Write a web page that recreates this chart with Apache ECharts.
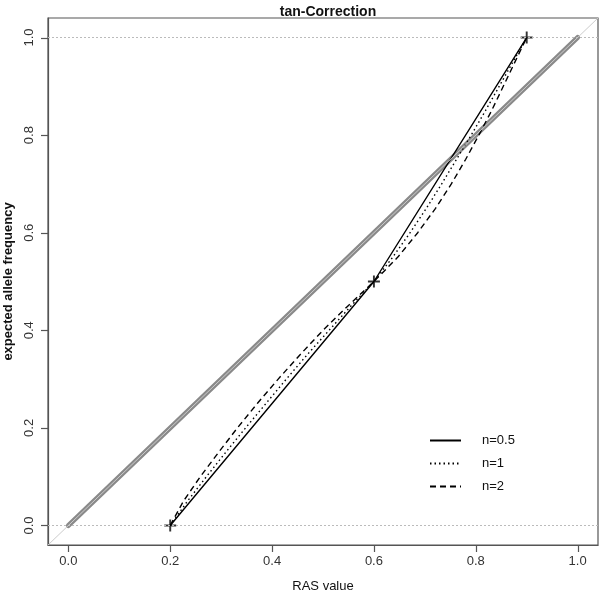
<!DOCTYPE html>
<html>
<head>
<meta charset="utf-8">
<script src="https://cdn.jsdelivr.net/npm/echarts@6/dist/echarts.min.js"></script>
<style>
  html, body { margin: 0; padding: 0; background: #fff; }
  #chart { width: 600px; height: 593px; }
</style>
</head>
<body>
<div id="chart"></div>
<script>
// tick positions on both axes
const tickValues = [0, 0.2, 0.4, 0.6, 0.8, 1.0]
const axisMin = -0.04
const axisMax = 1.04

// identity reference (thick grey)
const identityX = [0, 1]
const identityY = [0, 1]

// anchor points marked with "+"
const anchorX = [0.2, 0.6, 0.9]
const anchorY = [0, 0.5, 1]

// n = 0.5 (solid)
const solidX = [0.2, 0.6, 0.9]
const solidY = [0, 0.5, 1]

// n = 1 (dotted)
const dottedY = [0, 0.05, 0.1, 0.15, 0.2, 0.25, 0.3, 0.35, 0.4, 0.45, 0.5,
  0.55, 0.6, 0.65, 0.7, 0.75, 0.8, 0.85, 0.9, 0.95, 1]
const dottedX = [0.2, 0.234, 0.271, 0.309, 0.348, 0.388, 0.428, 0.469, 0.512, 0.555, 0.6,
  0.637, 0.671, 0.703, 0.733, 0.762, 0.791, 0.819, 0.846, 0.873, 0.9]

// n = 2 (dashed)
const dashedY = [0, 0.05, 0.1, 0.15, 0.2, 0.25, 0.3, 0.35, 0.4, 0.45, 0.5,
  0.55, 0.6, 0.65, 0.7, 0.75, 0.8, 0.85, 0.9, 0.95, 1]
const dashedX = [0.2, 0.226, 0.259, 0.295, 0.332, 0.371, 0.412, 0.455, 0.5, 0.549, 0.6,
  0.647, 0.686, 0.721, 0.752, 0.78, 0.806, 0.831, 0.854, 0.877, 0.9]

const zip = (xs, ys) => xs.map((x, i) => [x, ys[i]])

const font = 'Liberation Sans, Arial, sans-serif'
const plus = 'path://M4.2,0H5.8V10H4.2ZM0,4.2H10V5.8H0Z'
const tickLen = 7
const gridBox = { left: 48, right: 2, top: 18, bottom: 48 }

const axisCommon = {
  type: 'value',
  min: axisMin,
  max: axisMax,
  axisLine: { show: true, onZero: false, lineStyle: { color: '#555', width: 1.2 } },
  splitLine: { show: false },
  axisTick: { show: false },
  nameLocation: 'middle',
  nameMoveOverlap: false,
  nameTextStyle: { fontFamily: font, fontSize: 13, color: '#111' }
}

const chart = echarts.init(document.getElementById('chart'))
chart.setOption({
  animation: false,
  backgroundColor: '#fff',
  title: {
    text: 'tan-Correction',
    left: 323,
    textAlign: 'center',
    top: 0,
    textStyle: { fontFamily: font, fontSize: 14, fontWeight: 'bold', color: '#111' }
  },
  grid: Object.assign({}, gridBox, {
    outerBounds: { left: -200, top: -200, right: -200, bottom: -200 },
    show: true,
    borderColor: '#555',
    borderWidth: 1.2,
    backgroundColor: 'transparent'
  }),
  legend: {
    orient: 'vertical',
    left: 424,
    top: 429,
    itemWidth: 31,
    itemHeight: 14,
    itemGap: 10,
    data: ['n=0.5', 'n=1', 'n=2'],
    itemStyle: { opacity: 0 },
    textStyle: { fontFamily: font, fontSize: 13, color: '#111', padding: [0, 0, 0, 16] }
  },
  xAxis: Object.assign({}, axisCommon, {
    name: 'RAS value',
    nameGap: 35,
    axisLabel: {
      customValues: tickValues,
      margin: 10,
      formatter: v => v.toFixed(1),
      fontFamily: font, fontSize: 13, color: '#333'
    }
  }),
  yAxis: Object.assign({}, axisCommon, {
    name: 'expected allele frequency',
    nameGap: 33,
    nameRotate: 90,
    nameTextStyle: { fontFamily: font, fontSize: 13, color: '#111', fontWeight: 'bold' },
    axisLabel: {
      customValues: tickValues,
      rotate: 90,
      margin: 12,
      formatter: v => v.toFixed(1),
      fontFamily: font, fontSize: 13, color: '#333'
    }
  }),
  series: [
    {
      type: 'line',
      name: 'ref',
      data: zip(identityX, identityY),
      symbol: 'none',
      lineStyle: { color: '#8a8a8a', width: 5, cap: 'round' },
      z: 2,
      markLine: {
        silent: true,
        symbol: 'none',
        label: { show: false },
        lineStyle: { color: '#bbb', width: 1, type: [2, 2] },
        data: [
          { yAxis: 0 },
          { yAxis: 1 },
          [
            { coord: [axisMin, axisMin], lineStyle: { type: 'solid', color: '#ccc' } },
            { coord: [axisMax, axisMax] }
          ]
        ]
      }
    },
    {
      type: 'line',
      name: 'n=0.5',
      data: zip(solidX, solidY),
      symbol: 'none',
      color: '#000',
      lineStyle: { color: '#000', width: 1.4, type: 'solid' },
      z: 3
    },
    {
      type: 'line',
      name: 'n=1',
      data: zip(dottedX, dottedY),
      symbol: 'none',
      color: '#000',
      lineStyle: { color: '#000', width: 1.4, type: [1.5, 3] },
      z: 3
    },
    {
      type: 'line',
      name: 'n=2',
      data: zip(dashedX, dashedY),
      symbol: 'none',
      color: '#000',
      lineStyle: { color: '#000', width: 1.4, type: [6, 4] },
      z: 3
    },
    {
      type: 'scatter',
      name: 'points',
      data: zip(anchorX, anchorY),
      symbol: plus,
      symbolSize: 12,
      itemStyle: { color: '#000' },
      z: 4
    }
  ]
})

// pixel position of a data point, via the axes; falls back to the grid box
function toPixel(x, y) {
  let p = null
  try {
    p = chart.convertToPixel({ xAxisIndex: 0, yAxisIndex: 0 }, [x, y])
  } catch (e) {
    p = null
  }
  if (!p || !isFinite(p[0]) || !isFinite(p[1])) {
    const w = chart.getWidth() - gridBox.left - gridBox.right
    const h = chart.getHeight() - gridBox.top - gridBox.bottom
    const span = axisMax - axisMin
    p = [gridBox.left + (x - axisMin) / span * w,
      gridBox.top + h - (y - axisMin) / span * h]
  }
  return p
}

// outward R-style ticks on the frame
const tickLines = []
tickValues.forEach(v => {
  const bx = toPixel(v, axisMin)
  const ly = toPixel(axisMin, v)
  const tx = Math.round(bx[0]) + 0.5
  const ty = Math.round(ly[1]) + 0.5
  tickLines.push({
    type: 'line', silent: true, z: 100,
    shape: { x1: tx, y1: bx[1], x2: tx, y2: bx[1] + tickLen },
    style: { stroke: '#555', lineWidth: 1.2 }
  })
  tickLines.push({
    type: 'line', silent: true, z: 100,
    shape: { x1: ly[0], y1: ty, x2: ly[0] - tickLen, y2: ty },
    style: { stroke: '#555', lineWidth: 1.2 }
  })
})
chart.setOption({ graphic: { elements: tickLines } })
</script>
</body>
</html>
